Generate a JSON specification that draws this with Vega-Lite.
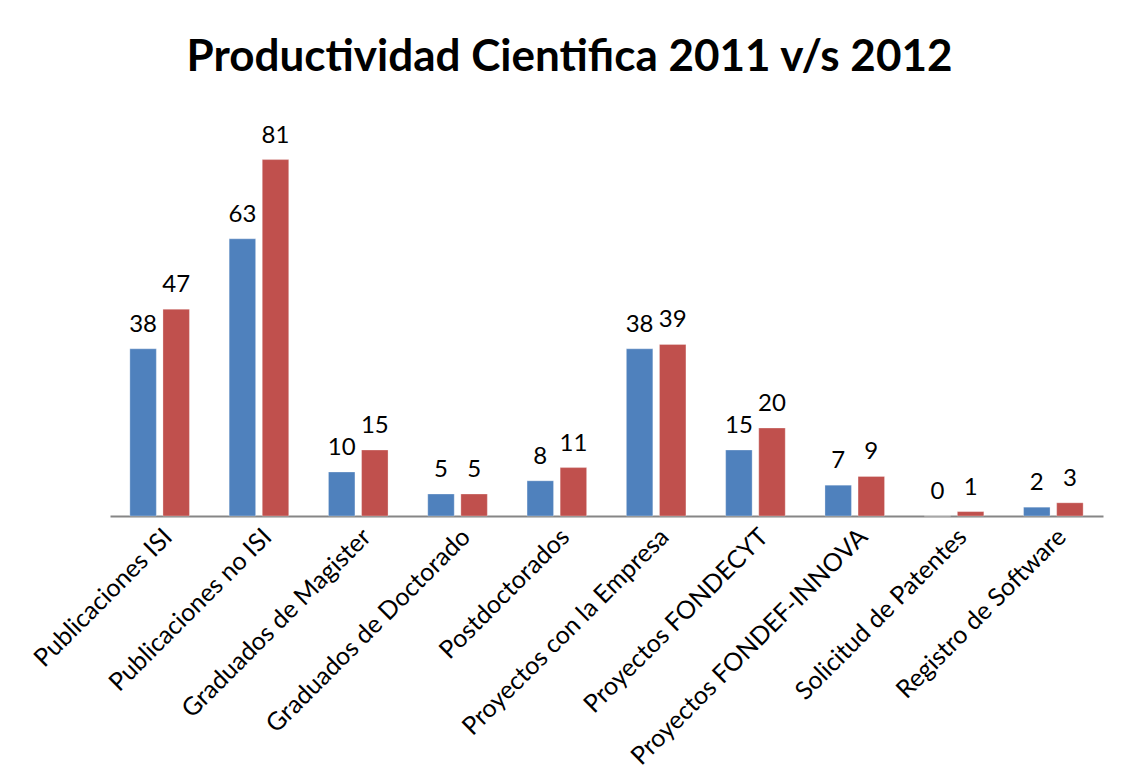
{
  "$schema": "https://vega.github.io/schema/vega-lite/v6.json",
  "width": 993,
  "height": 396,
  "autosize": {"type": "none"},
  "padding": {"left": 110, "top": 120, "right": 20, "bottom": 261},
  "background": "white",
  "title": {
    "text": "Productividad Cientifica 2011 v/s 2012",
    "font": "Lato",
    "fontSize": 44,
    "fontWeight": "bold",
    "color": "#000000",
    "anchor": "middle",
    "frame": "group",
    "dx": -37,
    "baseline": "alphabetic",
    "offset": 5
  },
  "data": {
    "values": [
      {"categoria": "Publicaciones ISI", "año": "2011", "valor": 38},
      {"categoria": "Publicaciones ISI", "año": "2012", "valor": 47},
      {"categoria": "Publicaciones no ISI", "año": "2011", "valor": 63},
      {"categoria": "Publicaciones no ISI", "año": "2012", "valor": 81},
      {"categoria": "Graduados de Magister", "año": "2011", "valor": 10},
      {"categoria": "Graduados de Magister", "año": "2012", "valor": 15},
      {"categoria": "Graduados de Doctorado", "año": "2011", "valor": 5},
      {"categoria": "Graduados de Doctorado", "año": "2012", "valor": 5},
      {"categoria": "Postdoctorados", "año": "2011", "valor": 8},
      {"categoria": "Postdoctorados", "año": "2012", "valor": 11},
      {"categoria": "Proyectos con la Empresa", "año": "2011", "valor": 38},
      {"categoria": "Proyectos con la Empresa", "año": "2012", "valor": 39},
      {"categoria": "Proyectos FONDECYT", "año": "2011", "valor": 15},
      {"categoria": "Proyectos FONDECYT", "año": "2012", "valor": 20},
      {"categoria": "Proyectos FONDEF-INNOVA", "año": "2011", "valor": 7},
      {"categoria": "Proyectos FONDEF-INNOVA", "año": "2012", "valor": 9},
      {"categoria": "Solicitud de Patentes", "año": "2011", "valor": 0},
      {"categoria": "Solicitud de Patentes", "año": "2012", "valor": 1},
      {"categoria": "Registro de Software", "año": "2011", "valor": 2},
      {"categoria": "Registro de Software", "año": "2012", "valor": 3}
    ]
  },
  "encoding": {
    "x": {
      "field": "categoria",
      "type": "nominal",
      "sort": null,
      "scale": {"paddingInner": 0.4, "paddingOuter": 0.2},
      "axis": {
        "title": null,
        "labelAngle": -45,
        "labelFont": "Lato",
        "labelFontSize": 25,
        "labelColor": "#000000",
        "labelPadding": 8,
        "ticks": false,
        "domainColor": "#868686",
        "domainWidth": 2,
        "labelLimit": 400
      }
    },
    "xOffset": {
      "field": "año",
      "type": "nominal",
      "scale": {"paddingInner": 0.2, "paddingOuter": 0}
    },
    "y": {
      "field": "valor",
      "type": "quantitative",
      "scale": {"domain": [0, 90], "nice": false},
      "axis": null
    }
  },
  "layer": [
    {
      "mark": {"type": "bar", "stroke": "white", "strokeWidth": 0.5, "strokeOpacity": 0.6},
      "encoding": {
        "color": {
          "field": "año",
          "type": "nominal",
          "scale": {"domain": ["2011", "2012"], "range": ["#4F81BD", "#C0504D"]},
          "legend": null
        }
      }
    },
    {
      "mark": {"type": "text", "baseline": "bottom", "dy": -12, "font": "Lato", "fontSize": 24, "color": "#000000"},
      "encoding": {
        "text": {"field": "valor", "type": "quantitative"}
      }
    }
  ],
  "config": {
    "view": {"stroke": null},
    "axis": {"grid": false}
  }
}
